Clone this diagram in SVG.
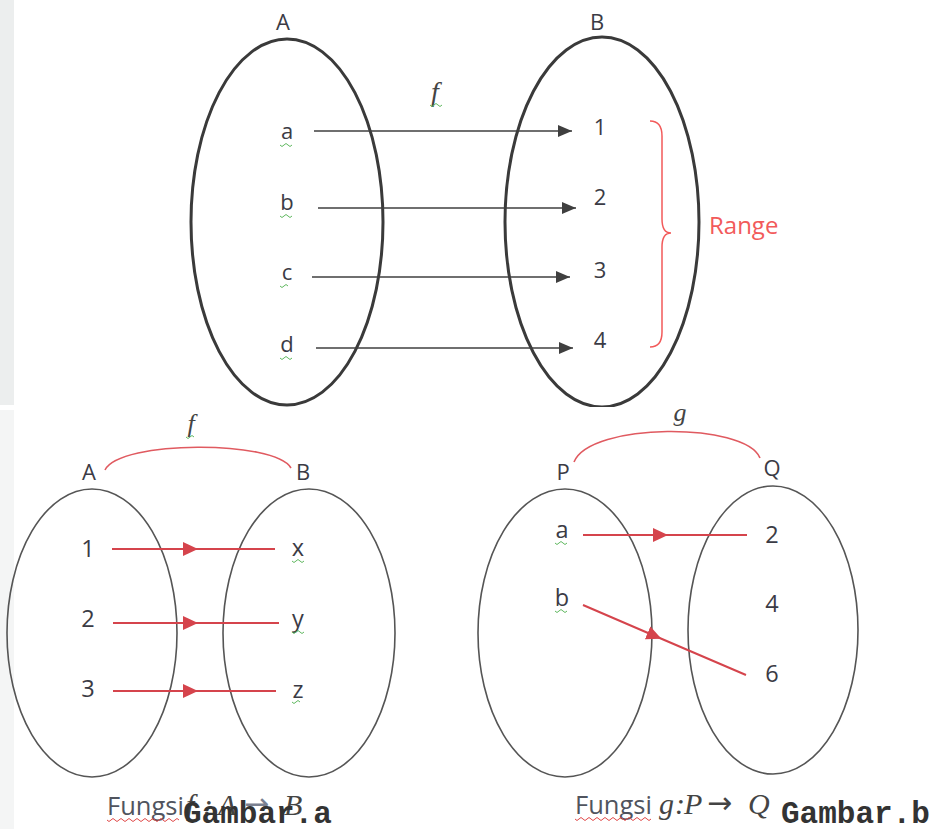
<svg xmlns="http://www.w3.org/2000/svg" width="930" height="829" viewBox="0 0 930 829">
  <style>
    .lbl { font-family: "Open Sans", "Noto Sans", sans-serif; font-size: 22px; fill: #3b3b45; text-anchor: middle; }
    .lb2 { font-family: "Open Sans", "Noto Sans", sans-serif; font-size: 23.5px; fill: #3b3b45; text-anchor: middle; }
    .math { font-family: "Liberation Serif", "DejaVu Serif", serif; font-style: italic; fill: #444; }
    .set { fill: none; stroke: #3a3a3a; stroke-width: 3; }
    .set2 { fill: none; stroke: #555; stroke-width: 1.6; }
    .blk { stroke: #3f3f3f; stroke-width: 1.6; fill: none; }
    .red { stroke: #d5444c; stroke-width: 2; fill: none; }
    .arc { stroke: #e05a60; stroke-width: 1.6; fill: none; }
    .sq { stroke: #5fb85f; stroke-width: 1; fill: none; }
    .sqr { stroke: #e04848; stroke-width: 1; fill: none; }
    .fun { font-family: "Open Sans", "Noto Sans", sans-serif; font-size: 25.5px; fill: #50545e; }
    .cap { font-family: "Liberation Mono", "DejaVu Sans Mono", monospace; font-weight: bold; font-size: 31px; fill: #333; }
  </style>
  <defs>
    <marker id="ah" markerUnits="userSpaceOnUse" markerWidth="16" markerHeight="14" refX="14" refY="6" orient="auto">
      <path d="M0,0 L14,6 L0,12 z" fill="#3f3f3f"/>
    </marker>
    <marker id="mr" markerUnits="userSpaceOnUse" markerWidth="18" markerHeight="14" refX="8" refY="7" orient="auto">
      <path d="M0,0 L15,7 L0,14 z" fill="#d5444c"/>
    </marker>
  </defs>
  <rect width="930" height="829" fill="#ffffff"/>
  <rect x="0" y="0" width="14" height="405" fill="#eceeee"/>
  <rect x="0" y="410" width="14" height="419" fill="#f4f5f5"/>

  <!-- Top diagram -->
  <g id="setA-top">
    <ellipse class="set" cx="287" cy="222" rx="96" ry="183"/>
    <text class="lbl" x="283" y="30">A</text>
  </g>
  <g id="setB-top">
    <ellipse class="set" cx="602" cy="222" rx="97" ry="185"/>
    <text class="lbl" x="597" y="30">B</text>
  </g>
  <rect x="180" y="407" width="540" height="6" fill="#ffffff"/>
  <g id="elems-top-A">
    <text class="lbl" x="287" y="139">a</text>
    <text class="lbl" x="287" y="210">b</text>
    <text class="lbl" x="287" y="280">c</text>
    <text class="lbl" x="287" y="352">d</text>
    <path class="sq" d="M280,145 q2,3 4,0 t4,0 t4,0 M280,216 q2,3 4,0 t4,0 t4,0 M280,286 q2,3 4,0 t4,0 M280,358 q2,3 4,0 t4,0 t4,0"/>
  </g>
  <g id="elems-top-B">
    <text class="lbl" x="600" y="135">1</text>
    <text class="lbl" x="600" y="205">2</text>
    <text class="lbl" x="600" y="278">3</text>
    <text class="lbl" x="600" y="348">4</text>
  </g>
  <g id="f-top">
    <text class="math" x="435" y="101" font-size="28" text-anchor="middle">f</text>
    <path class="sq" d="M430,105 q2,3 4,0 t4,0 t4,0"/>
  </g>
  <g id="range">
    <path d="M650,121 Q662,121 662,136 L662,219 Q662,233 671,233 Q662,233 662,247 L662,332 Q662,347 650,347" fill="none" stroke="#f25a5a" stroke-width="1.5"/>
    <text x="709" y="234" font-family="Open Sans, Noto Sans, sans-serif" font-size="24" fill="#f25a5a">Range</text>
  </g>
  <g id="connectors-top">
    <line class="blk" x1="314" y1="131" x2="572" y2="131" marker-end="url(#ah)"/>
    <line class="blk" x1="318" y1="208" x2="576" y2="208" marker-end="url(#ah)"/>
    <line class="blk" x1="312" y1="277" x2="570" y2="277" marker-end="url(#ah)"/>
    <line class="blk" x1="316" y1="348" x2="573" y2="348" marker-end="url(#ah)"/>
  </g>

  <!-- Bottom left diagram -->
  <g id="setA-left">
    <ellipse class="set2" cx="92" cy="633" rx="85" ry="144"/>
    <text class="lbl" x="89" y="480">A</text>
    <text class="lb2" x="88" y="557">1</text>
    <text class="lb2" x="88" y="627">2</text>
    <text class="lb2" x="88" y="697">3</text>
  </g>
  <g id="setB-left">
    <ellipse class="set2" cx="309" cy="633" rx="86" ry="144"/>
    <text class="lbl" x="303" y="480">B</text>
    <text class="lb2" x="298" y="556">x</text>
    <text class="lb2" x="298" y="627">y</text>
    <text class="lb2" x="298" y="698">z</text>
    <path class="sq" d="M292,561 q2,3 4,0 t4,0 t4,0 M292,632 q2,3 4,0 t4,0 t4,0 M292,702 q2,3 4,0 t4,0"/>
  </g>
  <g id="f-left">
    <path class="arc" d="M105,470 C120,440 275,440 291,468"/>
    <text class="math" x="191" y="432" font-size="26" text-anchor="middle">f</text>
    <path class="sq" d="M186,437 q2,3 4,0 t4,0"/>
  </g>
  <g id="connectors-left">
    <path class="red" d="M112,549 L191,549 L275,549" marker-mid="url(#mr)"/>
    <path class="red" d="M113,623 L191,623 L279,623" marker-mid="url(#mr)"/>
    <path class="red" d="M113,691 L191,691 L276,691" marker-mid="url(#mr)"/>
  </g>
  <g id="caption-a">
    <text class="fun" x="107" y="815">Fungsi</text>
    <path class="sqr" d="M107,820 q2,3 4,0 t4,0 t4,0 t4,0 t4,0 t4,0 t4,0 t4,0 t4,0 t4,0 t4,0 t4,0 t4,0 t4,0 t4,0 t4,0 t4,0 t4,0"/>
    <text class="math" x="186" y="815" font-size="30" fill="#7a8090">f</text>
    <text class="math" x="203" y="815" font-size="30" fill="#7a8090">:</text>
    <text class="math" x="218" y="815" font-size="30" fill="#7a8090">A</text>
    <text x="244" y="814" font-family="DejaVu Sans, sans-serif" font-size="30" fill="#7a8090">→</text>
    <text class="math" x="284" y="815" font-size="30" fill="#7a8090">B</text>
    <text class="cap" x="183" y="823">Gambar.a</text>
  </g>

  <!-- Bottom right diagram -->
  <g id="setP">
    <ellipse class="set2" cx="565" cy="633" rx="87" ry="144"/>
    <text class="lbl" x="563" y="480">P</text>
    <text class="lb2" x="562" y="538">a</text>
    <text class="lb2" x="562" y="606">b</text>
    <path class="sq" d="M555,543 q2,3 4,0 t4,0 t4,0 M555,611 q2,3 4,0 t4,0 t4,0"/>
  </g>
  <g id="setQ">
    <ellipse class="set2" cx="773" cy="630" rx="85" ry="144"/>
    <text class="lbl" x="772" y="476">Q</text>
    <text class="lb2" x="772" y="543">2</text>
    <text class="lb2" x="772" y="612">4</text>
    <text class="lb2" x="772" y="682">6</text>
  </g>
  <g id="g-right">
    <path class="arc" d="M574,462 C590,422 745,422 760,458"/>
    <text class="math" x="680" y="421" font-size="26" text-anchor="middle">g</text>
  </g>
  <g id="connectors-right">
    <path class="red" d="M583,535 L661,535 L747,535" marker-mid="url(#mr)"/>
    <path class="red" d="M583,605 L655,636 L746,675" marker-mid="url(#mr)"/>
  </g>
  <g id="caption-b">
    <text class="fun" x="575" y="814">Fungsi</text>
    <path class="sqr" d="M575,819 q2,3 4,0 t4,0 t4,0 t4,0 t4,0 t4,0 t4,0 t4,0 t4,0 t4,0 t4,0 t4,0 t4,0 t4,0 t4,0 t4,0 t4,0 t4,0 t4,0"/>
    <text class="math" x="659" y="814" font-size="30">g</text>
    <text class="math" x="675" y="814" font-size="30">:</text>
    <text class="math" x="684" y="814" font-size="30">P</text>
    <text x="707" y="813" font-family="DejaVu Sans, sans-serif" font-size="30" fill="#444">→</text>
    <text class="math" x="748" y="814" font-size="30">Q</text>
    <text class="cap" x="781" y="823">Gambar.b</text>
  </g>
</svg>
